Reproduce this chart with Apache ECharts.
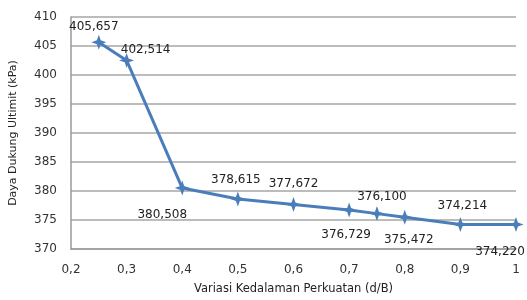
<!DOCTYPE html>
<html>
<head>
<meta charset="utf-8">
<script src="https://cdn.jsdelivr.net/npm/echarts@6/dist/echarts.min.js"></script>
<style>
  html, body { margin: 0; padding: 0; background: #fff; }
  #chart { width: 527px; height: 300px; }
</style>
</head>
<body>
<div id="chart"></div>
<script>
// data d/B vs daya dukung ultimit
const ratios = [0.25, 0.3, 0.4, 0.5, 0.6, 0.7, 0.75, 0.8, 0.9, 1.0]
const capacities = [405.657, 402.514, 380.508, 378.615, 377.672, 376.729, 376.100, 375.472, 374.214, 374.220]

// label offsets (px) for each point, so labels don't overlap the line
const labelOffsets = [[-5, -15], [19, -11], [-20, 27], [-2, -19], [0, -21], [-3, 25], [5, -17], [4, 23], [2, -19], [-16, 27]]

const fmt = v => v.toFixed(3).replace('.', ',')
const FONT = 'DejaVu Sans'
const star = 'path://M0,-10 L2.6,-2.6 L10,0 L2.6,2.6 L0,10 L-2.6,2.6 L-10,0 L-2.6,-2.6 Z'

const chart = echarts.init(document.getElementById('chart'))

const points = ratios.map((x, i) => ({
  value: [x, capacities[i]],
  label: { offset: labelOffsets[i] }
}))

chart.setOption({
  animation: false,
  grid: { left: 68, right: 11, top: 17, bottom: 49 },
  xAxis: {
    type: 'value',
    min: 0.2,
    max: 1,
    interval: 0.1,
    name: 'Variasi Kedalaman Perkuatan (d/B)',
    nameLocation: 'middle',
    nameGap: 34,
    nameTextStyle: { fontFamily: FONT, fontSize: 11.5, color: '#222' },
    axisLine: { lineStyle: { color: '#9a9a9a', width: 1.5 } },
    axisTick: { show: false },
    splitLine: { show: false },
    axisLabel: {
      margin: 15,
      fontFamily: FONT, fontSize: 12, color: '#333',
      formatter: v => String(+v.toFixed(1)).replace('.', ',')
    }
  },
  yAxis: {
    type: 'value',
    min: 370,
    max: 410,
    interval: 5,
    name: 'Daya Dukung Ultimit (kPa)',
    nameLocation: 'middle',
    nameGap: 52,
    nameTextStyle: { fontFamily: FONT, fontSize: 11, color: '#222' },
    axisLine: { show: true, lineStyle: { color: '#9a9a9a', width: 1.5 } },
    axisTick: { show: false },
    splitLine: { lineStyle: { color: '#a6a6a6', width: 1.5 } },
    axisLabel: { margin: 14, fontFamily: FONT, fontSize: 12, color: '#333' }
  },
  series: [{
    type: 'line',
    data: points,
    symbol: star,
    symbolSize: 15,
    lineStyle: { color: '#4a7ebb', width: 3 },
    itemStyle: { color: '#4a7ebb' },
    label: {
      show: true,
      position: 'inside',
      fontFamily: FONT,
      fontSize: 12,
      color: '#222',
      formatter: p => fmt(p.value[1])
    }
  }]
})
</script>
</body>
</html>
